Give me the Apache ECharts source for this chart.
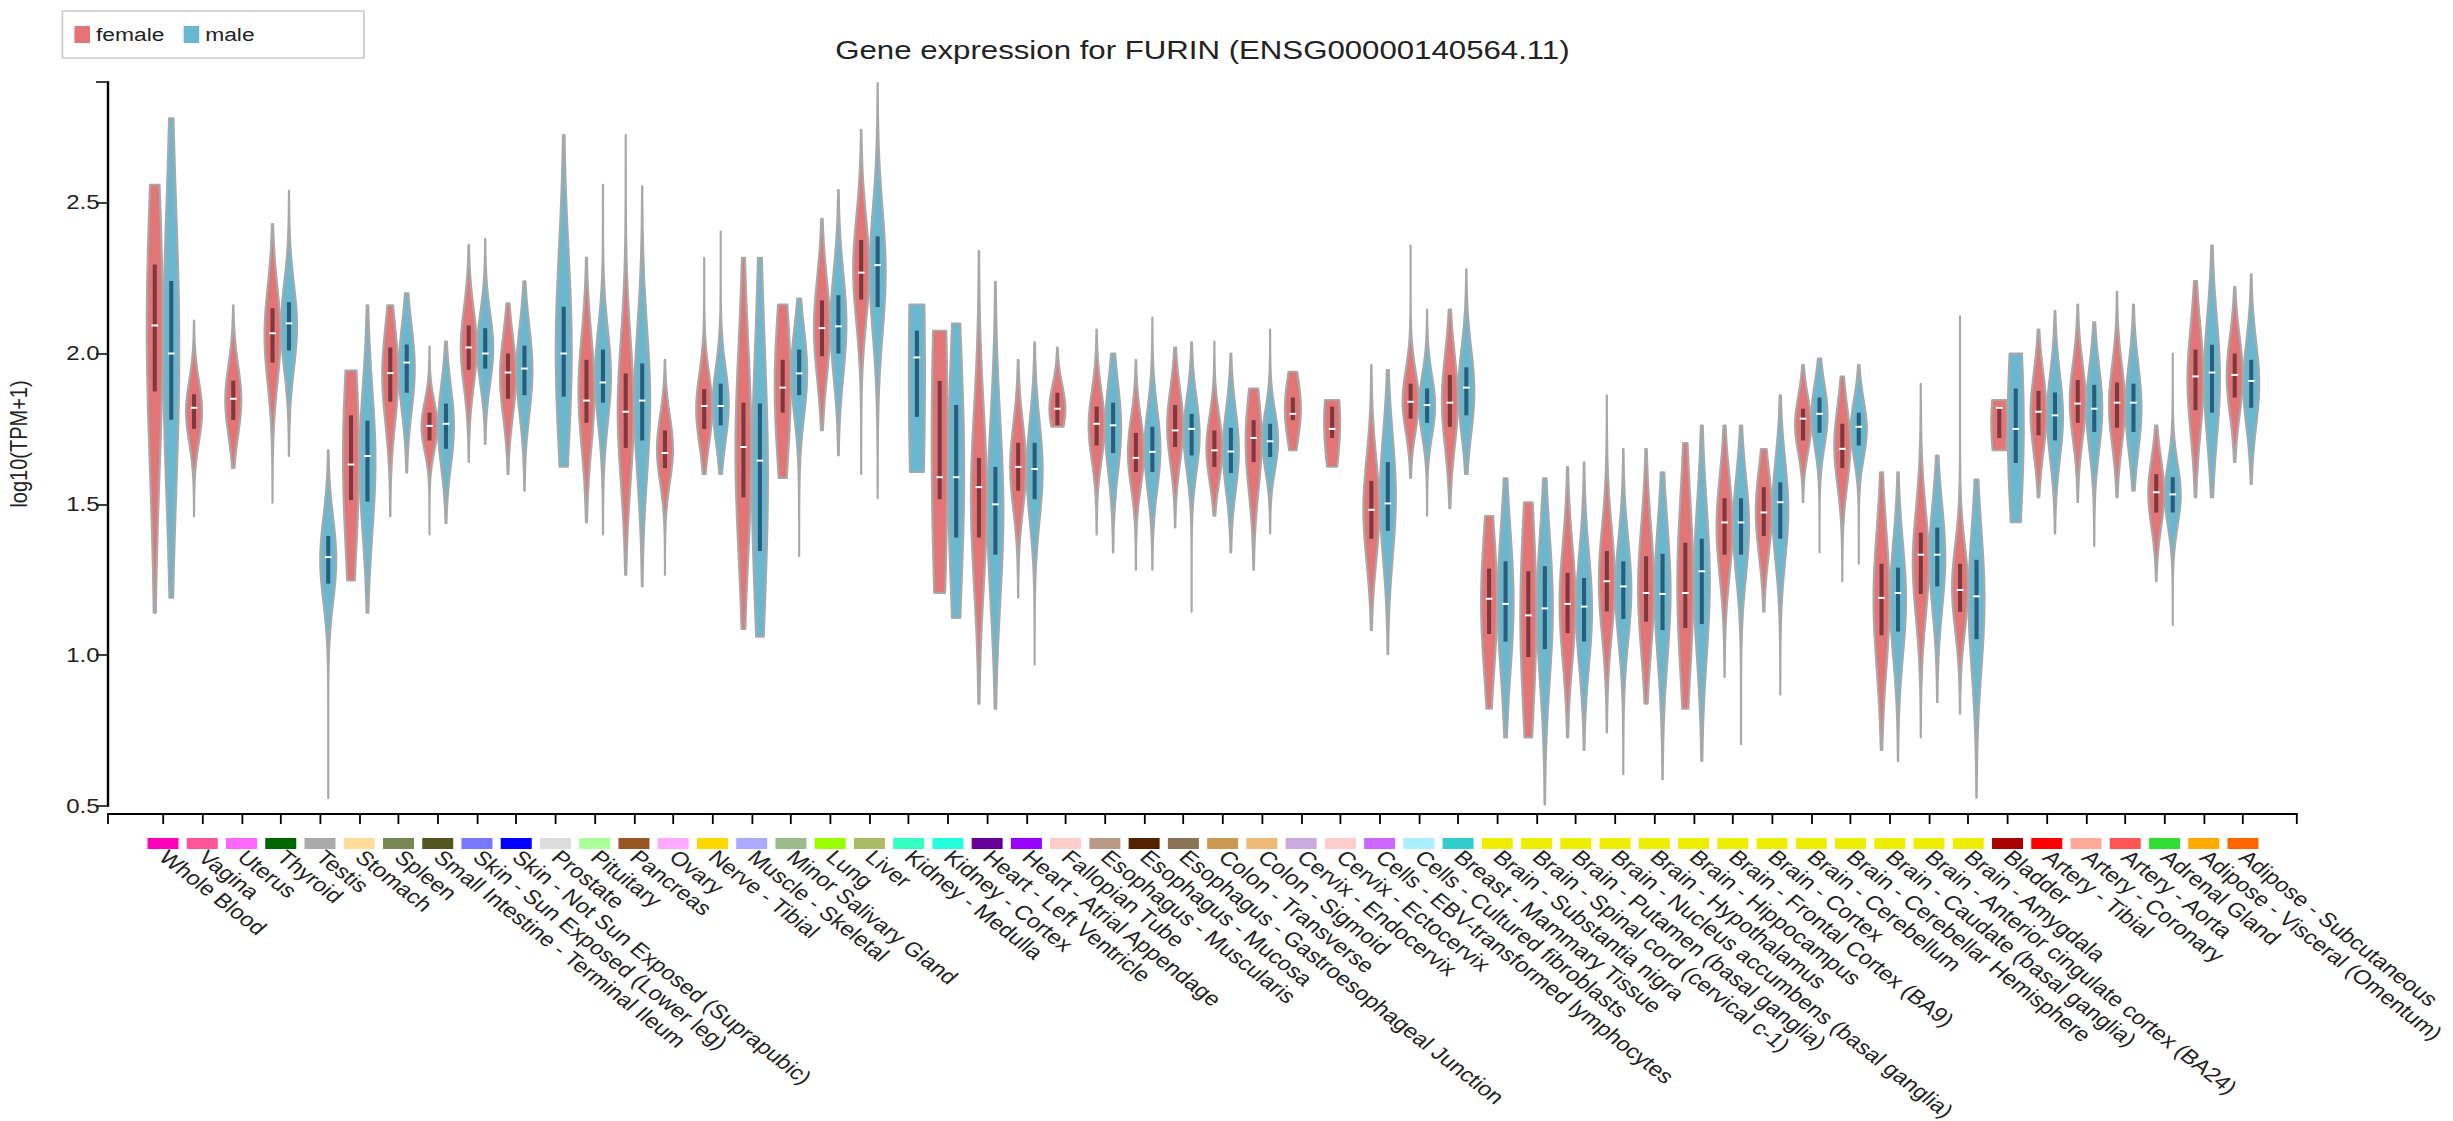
<!DOCTYPE html>
<html>
<head>
<meta charset="utf-8">
<script src="https://cdn.jsdelivr.net/npm/echarts@6/dist/echarts.min.js"></script>
<style>
html,body{margin:0;padding:0;background:#fff;overflow:hidden;width:2453px;height:1121px}
#chart{width:2044px;height:1121px;transform:scaleX(1.2);transform-origin:0 0;}
</style>
</head>
<body>
<div id="chart"></div>
<script>
// ---------------- data ----------------
const chartTitle = 'Gene expression for FURIN (ENSG00000140564.11)';
const yAxisName = 'log10(TPM+1)';
const sexes = ['female', 'male'];

const tissues = [
  'Whole Blood','Vagina','Uterus','Thyroid','Testis','Stomach','Spleen',
  'Small Intestine - Terminal Ileum','Skin - Sun Exposed (Lower leg)','Skin - Not Sun Exposed (Suprapubic)',
  'Prostate','Pituitary','Pancreas','Ovary','Nerve - Tibial','Muscle - Skeletal','Minor Salivary Gland',
  'Lung','Liver','Kidney - Medulla','Kidney - Cortex','Heart - Left Ventricle','Heart - Atrial Appendage',
  'Fallopian Tube','Esophagus - Muscularis','Esophagus - Mucosa','Esophagus - Gastroesophageal Junction',
  'Colon - Transverse','Colon - Sigmoid','Cervix - Endocervix','Cervix - Ectocervix',
  'Cells - EBV-transformed lymphocytes','Cells - Cultured fibroblasts','Breast - Mammary Tissue',
  'Brain - Substantia nigra','Brain - Spinal cord (cervical c-1)','Brain - Putamen (basal ganglia)',
  'Brain - Nucleus accumbens (basal ganglia)','Brain - Hypothalamus','Brain - Hippocampus',
  'Brain - Frontal Cortex (BA9)','Brain - Cortex','Brain - Cerebellum','Brain - Cerebellar Hemisphere',
  'Brain - Caudate (basal ganglia)','Brain - Anterior cingulate cortex (BA24)','Brain - Amygdala',
  'Bladder','Artery - Tibial','Artery - Coronary','Artery - Aorta','Adrenal Gland',
  'Adipose - Visceral (Omentum)','Adipose - Subcutaneous'
];

const tissueColors = [
  '#FF00BB','#FF5599','#FF66FF','#006600','#AAAAAA','#FFDD99','#778855',
  '#555522','#7777FF','#0000FF',
  '#DDDDDD','#AAFF99','#995522','#FFAAFF','#FFD700','#AAAAFF','#99BB88',
  '#99FF00','#AABB66','#33FFC2','#22FFDD','#660099','#9900FF',
  '#FFCCCC','#BB9988','#552200','#8B7355',
  '#CC9955','#EEBB77','#CCAADD','#FFCCCC',
  '#CC66FF','#AAEEFF','#33CCCC',
  '#EEEE00','#EEEE00','#EEEE00','#EEEE00','#EEEE00','#EEEE00','#EEEE00',
  '#EEEE00','#EEEE00','#EEEE00','#EEEE00','#EEEE00','#EEEE00',
  '#AA0000','#FF0000','#FFAA99','#FF5555','#33DD33','#FFAA00','#FF6600'
];

// [min, q1, median, q3, max] of log10(TPM+1); null = no samples
const femaleStats = [
  [1.14, 1.874, 2.093, 2.295, 2.56],
  [1.46, 1.75, 1.82, 1.865, 2.11],
  [1.62, 1.78, 1.85, 1.91, 2.16],
  [1.505, 1.97, 2.067, 2.15, 2.43],
  null,
  [1.247, 1.514, 1.632, 1.795, 1.944],
  [1.46, 1.84, 1.935, 2.02, 2.16],
  [1.40, 1.712, 1.76, 1.804, 2.024],
  [1.64, 1.946, 2.02, 2.093, 2.36],
  [1.60, 1.85, 1.937, 2.0, 2.167],
  null,
  [1.44, 1.77, 1.844, 1.979, 2.318],
  [1.266, 1.687, 1.807, 1.934, 2.725],
  [1.266, 1.62, 1.67, 1.745, 1.98],
  [1.60, 1.75, 1.826, 1.882, 2.318],
  [1.086, 1.523, 1.69, 1.837, 2.318],
  [1.587, 1.804, 1.887, 1.979, 2.163],
  [1.745, 1.991, 2.084, 2.176, 2.447],
  [1.60, 2.179, 2.268, 2.376, 2.742],
  null,
  [1.206, 1.517, 1.59, 1.909, 2.076],
  [0.839, 1.39, 1.557, 1.654, 2.34],
  [1.19, 1.545, 1.624, 1.704, 1.979],
  [1.757, 1.762, 1.817, 1.87, 2.02],
  [1.40, 1.695, 1.767, 1.824, 2.08],
  [1.283, 1.607, 1.654, 1.737, 1.979],
  [1.423, 1.69, 1.745, 1.829, 2.02],
  [1.462, 1.624, 1.679, 1.745, 2.04],
  [1.283, 1.64, 1.72, 1.779, 1.884],
  [1.679, 1.779, 1.80, 1.854, 1.94],
  [1.624, 1.72, 1.75, 1.824, 1.846],
  [1.083, 1.386, 1.482, 1.578, 1.962],
  [1.587, 1.784, 1.84, 1.9, 2.358],
  [1.487, 1.757, 1.837, 1.929, 2.146],
  [0.822, 1.07, 1.187, 1.287, 1.462],
  [0.727, 0.994, 1.132, 1.278, 1.507],
  [0.727, 1.073, 1.17, 1.273, 1.624],
  [0.744, 1.145, 1.245, 1.345, 1.862],
  [0.839, 1.111, 1.206, 1.328, 1.684],
  [0.822, 1.09, 1.206, 1.373, 1.704],
  [0.927, 1.333, 1.44, 1.52, 1.762],
  [1.144, 1.395, 1.473, 1.557, 1.684],
  [1.507, 1.712, 1.784, 1.817, 1.962],
  [1.245, 1.62, 1.684, 1.767, 1.924],
  [0.685, 1.066, 1.19, 1.303, 1.607],
  [0.727, 1.203, 1.333, 1.406, 1.90],
  [0.806, 1.144, 1.216, 1.303, 2.124],
  [1.679, 1.72, 1.82, 1.824, 1.846],
  [1.523, 1.729, 1.807, 1.876, 2.08],
  [1.507, 1.77, 1.834, 1.912, 2.163],
  [1.523, 1.754, 1.837, 1.904, 2.205],
  [1.245, 1.473, 1.54, 1.60, 1.762],
  [1.523, 1.812, 1.924, 2.013, 2.241],
  [1.64, 1.854, 1.929, 2.0, 2.221]
];

const maleStats = [
  [1.19, 1.78, 2.0, 2.24, 2.78],
  null,
  null,
  [1.66, 2.01, 2.1, 2.17, 2.54],
  [0.526, 1.237, 1.325, 1.395, 1.68],
  [1.14, 1.509, 1.66, 1.777, 2.16],
  [1.605, 1.87, 1.97, 2.03, 2.2],
  [1.437, 1.684, 1.767, 1.834, 2.04],
  [1.70, 1.95, 2.0, 2.084, 2.38],
  [1.545, 1.862, 1.95, 2.026, 2.24],
  [1.624, 1.857, 2.0, 2.155, 2.725],
  [1.40, 1.837, 1.904, 2.013, 2.56],
  [1.228, 1.712, 1.844, 1.967, 2.555],
  null,
  [1.60, 1.762, 1.826, 1.90, 2.405],
  [1.061, 1.345, 1.645, 1.834, 2.318],
  [1.328, 1.862, 1.934, 2.013, 2.183],
  [1.662, 2.0, 2.09, 2.193, 2.542],
  [1.52, 2.154, 2.293, 2.388, 2.897],
  [1.607, 1.79, 1.987, 2.076, 2.163],
  [1.123, 1.39, 1.59, 1.829, 2.10],
  [0.822, 1.333, 1.5, 1.624, 2.238],
  [0.969, 1.517, 1.617, 1.704, 2.038],
  null,
  [1.34, 1.67, 1.762, 1.837, 2.0],
  [1.283, 1.607, 1.674, 1.757, 2.12],
  [1.144, 1.662, 1.75, 1.80, 2.038],
  [1.34, 1.604, 1.675, 1.754, 2.0],
  [1.403, 1.657, 1.709, 1.767, 2.08],
  null,
  null,
  [1.003, 1.412, 1.503, 1.64, 1.946],
  [1.462, 1.77, 1.829, 1.884, 2.146],
  [1.60, 1.795, 1.887, 1.954, 2.28],
  [0.727, 1.045, 1.17, 1.311, 1.587],
  [0.505, 1.02, 1.155, 1.295, 1.587],
  [0.685, 1.045, 1.161, 1.256, 1.64],
  [0.605, 1.12, 1.228, 1.311, 1.684],
  [0.588, 1.083, 1.203, 1.336, 1.607],
  [0.649, 1.103, 1.278, 1.386, 1.762],
  [0.705, 1.333, 1.44, 1.52, 1.762],
  [0.869, 1.386, 1.507, 1.573, 1.862],
  [1.34, 1.737, 1.80, 1.854, 1.984],
  [1.303, 1.695, 1.757, 1.804, 1.962],
  [0.649, 1.078, 1.206, 1.29, 1.607],
  [0.844, 1.228, 1.333, 1.423, 1.662],
  [0.527, 1.053, 1.195, 1.316, 1.583],
  [1.44, 1.637, 1.75, 1.884, 2.0],
  [1.403, 1.712, 1.795, 1.871, 2.141],
  [1.361, 1.74, 1.817, 1.896, 2.104],
  [1.545, 1.74, 1.837, 1.90, 2.163],
  [1.10, 1.473, 1.533, 1.59, 2.0],
  [1.523, 1.804, 1.937, 2.029, 2.358],
  [1.567, 1.82, 1.909, 1.979, 2.263]
];

// relative spread (kernel bandwidth) of each violin's density, read from the shapes
const femaleSpread = [
  1.5,1.2,1.2,1.2,1.2,1.6,1.2,1.2,1.2,1.2,
  1.2,1.2,1.3,1.2,1.2,1.5,2.0,1.2,1.2,1.2,
  2.0,1.5,1.2,1.0,1.2,1.2,1.2,1.2,1.6,2.0,
  2.0,1.2,1.2,1.2,1.5,1.6,1.3,1.2,1.3,1.4,
  1.2,1.2,1.2,1.2,1.3,1.2,1.2,2.0,1.2,1.2,
  1.2,1.2,1.2,1.2
];
const maleSpread = [
  1.4,1.2,1.2,1.2,1.2,1.2,1.2,1.2,1.2,1.2,
  1.5,1.2,1.3,1.2,1.2,1.2,1.3,1.2,1.2,3.0,
  1.3,1.4,1.2,1.2,1.2,1.2,1.2,1.2,1.2,1.2,
  1.2,1.2,1.2,1.2,1.2,1.2,1.2,1.2,1.2,1.2,
  1.2,1.2,1.2,1.2,1.2,1.2,1.2,1.8,1.2,1.2,
  1.2,1.2,1.2,1.2
];

const yMin = 0.5, yMax = 2.9, yStep = 0.5;

// ---------------- rendering ----------------
const FONT = '"Liberation Sans", Arial, Helvetica, sans-serif';
const FEMALE_COLOR = '#e47577';
const MALE_COLOR = '#6ab8cf';
const FEMALE_BOX = '#7b3a3f';
const MALE_BOX = '#2b5d78';

function buildData(stats, spread) {
  const out = [];
  stats.forEach((s, i) => { if (s) out.push([i, s[0], s[1], s[2], s[3], s[4], spread[i]]); });
  return out;
}

function violinItem(sign, fill, boxFill) {
  return function (params, api) {
    const ci = api.value(0);
    const vmin = api.value(1), q1 = api.value(2), med = api.value(3), q3 = api.value(4), vmax = api.value(5);
    const bw = api.value(6);
    const band = api.size([1, 0])[0];
    const cx = api.coord([ci, med])[0] + sign * band * 0.21;
    const half = band * 0.203;
    const c = (q1 + q3) / 2;
    const sigma = Math.max((q3 - q1) / 1.349, 0.03) * bw;
    const N = 90;
    const right = [], left = [];
    for (let k = 0; k <= N; k++) {
      const v = vmin + (vmax - vmin) * k / N;
      const z = (v - c) / sigma;
      const f = Math.exp(-0.5 * z * z);
      const y = api.coord([ci, v])[1];
      right.push([cx + half * f, y]);
      left.unshift([cx - half * f, y]);
    }
    const yq1 = api.coord([ci, q1])[1];
    const yq3 = api.coord([ci, q3])[1];
    const ym = api.coord([ci, med])[1];
    return {
      type: 'group',
      children: [
        { type: 'polygon', shape: { points: right.concat(left) },
          style: { fill: fill, stroke: '#a8a8a8', lineWidth: 1.8, lineJoin: 'round' } },
        { type: 'rect', shape: { x: cx - 1.7, y: yq3, width: 3.4, height: yq1 - yq3 },
          style: { fill: boxFill } },
        { type: 'rect', shape: { x: cx - 2.8, y: ym - 1, width: 5.6, height: 2 },
          style: { fill: '#ffffff' } }
      ]
    };
  };
}

function squareItem(params, api) {
  const i = api.value(0);
  const band = api.size([1, 0])[0];
  const p = api.coord([i, yMin]);
  return {
    type: 'rect',
    shape: { x: p[0] - band * 0.395, y: p[1] + 32, width: band * 0.79, height: 11 },
    style: { fill: tissueColors[i] }
  };
}

const chart = echarts.init(document.getElementById('chart'), null, { renderer: 'svg' });

const option = {
  animation: false,
  backgroundColor: '#ffffff',
  tooltip: { show: false },
  graphic: [{
    type: 'text', x: 1002, y: 50, silent: true,
    style: { text: chartTitle, fontSize: 26, fontFamily: FONT, fill: '#222',
             align: 'center', verticalAlign: 'middle', textAlign: 'center', textVerticalAlign: 'middle' }
  }],
  legend: {
    data: sexes, left: 52, top: 11, orient: 'horizontal', icon: 'rect',
    itemWidth: 13, itemHeight: 17, itemGap: 16, padding: [14, 91, 14, 10],
    borderColor: '#cccccc', borderWidth: 1.5, selectedMode: false,
    textStyle: { fontSize: 19, color: '#222', fontFamily: FONT }
  },
  grid: [
    { left: 90, width: 1824, top: 82, height: 724, containLabel: false, outerBoundsMode: 'none' },
    { left: 119.5, width: 1766, top: 82, height: 724, containLabel: false, outerBoundsMode: 'none' }
  ],
  xAxis: [
    { gridIndex: 0, type: 'value', min: 0, max: 1, interval: 1, offset: 8,
      axisLine: { show: true, lineStyle: { color: '#000', width: 2 } },
      axisTick: { show: true, length: 10, lineStyle: { color: '#000', width: 1.5 } },
      axisLabel: { show: false }, splitLine: { show: false } },
    { gridIndex: 1, type: 'category', data: tissues, boundaryGap: true, offset: 8,
      axisLine: { show: false },
      axisTick: { show: true, alignWithLabel: true, interval: 0, length: 10, lineStyle: { color: '#000', width: 1.5 } },
      axisLabel: { interval: 0, rotate: -43, margin: 40, fontSize: 20, color: '#222', fontFamily: FONT, hideOverlap: false },
      splitLine: { show: false } }
  ],
  yAxis: [
    { gridIndex: 0, type: 'value', min: yMin, max: yMax, interval: yStep, offset: 8,
      name: yAxisName, nameLocation: 'middle', nameGap: 56,
      nameTextStyle: { fontSize: 20, color: '#222', fontFamily: FONT },
      axisLine: { show: true, lineStyle: { color: '#000', width: 2 } },
      axisTick: { show: true, length: 10, lineStyle: { color: '#000', width: 1.5 } },
      axisLabel: { margin: -1, fontSize: 20, color: '#222', fontFamily: FONT,
        formatter: v => (Math.abs(v / yStep - Math.round(v / yStep)) < 1e-6 ? v.toFixed(1) : '') },
      splitLine: { show: false } },
    { gridIndex: 1, type: 'value', min: yMin, max: yMax, show: false, splitLine: { show: false } }
  ],
  series: [
    { name: 'female', type: 'custom', xAxisIndex: 1, yAxisIndex: 1, clip: false, z: 2,
      itemStyle: { color: FEMALE_COLOR }, encode: { x: 0, y: [1, 2, 3, 4, 5] },
      renderItem: violinItem(-1, FEMALE_COLOR, FEMALE_BOX), data: buildData(femaleStats, femaleSpread) },
    { name: 'male', type: 'custom', xAxisIndex: 1, yAxisIndex: 1, clip: false, z: 3,
      itemStyle: { color: MALE_COLOR }, encode: { x: 0, y: [1, 2, 3, 4, 5] },
      renderItem: violinItem(1, MALE_COLOR, MALE_BOX), data: buildData(maleStats, maleSpread) },
    { name: 'tissue', type: 'custom', xAxisIndex: 1, yAxisIndex: 1, clip: false, silent: true, z: 1,
      encode: { x: 0, y: 1 }, renderItem: squareItem, data: tissues.map((t, i) => [i, yMin]) }
  ]
};
chart.setOption(option);
</script>
</body>
</html>
